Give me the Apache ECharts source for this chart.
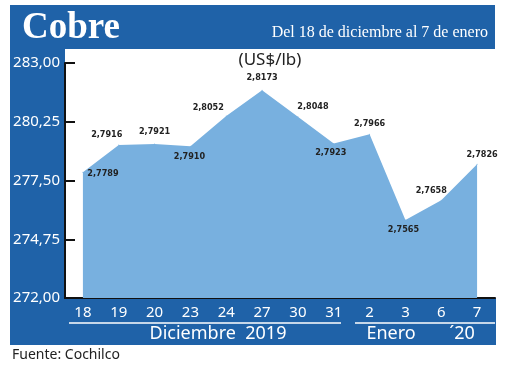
<!DOCTYPE html>
<html><head><meta charset="utf-8">
<script src="https://cdn.jsdelivr.net/npm/echarts@6/dist/echarts.min.js"></script>
<style>html,body{margin:0;padding:0;background:#fff}#c{width:520px;height:367px}</style>
</head><body><div id="c"></div>
<script>
// Data (cents of US$/lb; labels shown in US$/lb)
var categories = ['18','19','20','23','24','27','30','31','2','3','6','7'];
var values = [277.89, 279.16, 279.21, 279.10, 280.52, 281.73, 280.48, 279.23, 279.66, 275.65, 276.58, 278.26];
var yTicks = [272, 274.75, 277.5, 280.25, 283];

// label placement (style only)
var labelOffsets = [[20,1],[-12,-10],[0,-12],[-1,10],[-18,-8],[0,-12],[15,-10],[-3,9],[0,-11],[-2,10],[-10,-9],[5,-10]];

var HDR = '#1f62a8', AREA = '#78b0df';
var chart = echarts.init(document.getElementById('c'));
var fmt = function (v) { return v.toFixed(2).replace('.', ','); };
var seriesData = values.map(function (v, i) {
  return {
    value: v,
    label: {
      show: true, position: 'inside', offset: labelOffsets[i],
      formatter: (v / 100).toFixed(4).replace('.', ','),
      color: '#222', fontSize: 9, fontWeight: 'bold',
      fontFamily: "'Liberation Sans Narrow','DejaVu Sans Condensed',sans-serif"
    }
  };
});
function txt(x, y, s, font, fill, align) {
  return { type: 'text', z: 10, style: { x: x, y: y, text: s, fill: fill, font: font, align: align || 'left', verticalAlign: 'middle' } };
}
chart.setOption({
  animation: false,
  grid: { left: 65, right: 25, top: 63, bottom: 69 },
  graphic: [
    { type: 'rect', z: -1, shape: { x: 10, y: 5, width: 485, height: 44 }, style: { fill: HDR } },
    { type: 'rect', z: -1, shape: { x: 10, y: 49, width: 55, height: 250 }, style: { fill: HDR } },
    { type: 'rect', z: -1, shape: { x: 10, y: 298, width: 486, height: 47 }, style: { fill: HDR } },
    txt(22, 28, 'Cobre', "bold 37px 'Liberation Serif', serif", '#fff'),
    txt(488, 33, 'Del 18 de diciembre al 7 de enero', "16px 'Liberation Serif', serif", '#fff', 'right'),
    txt(270, 60, '(US$/lb)', "17px 'Noto Sans', sans-serif", '#222', 'center'),
    { type: 'line', shape: { x1: 69, y1: 323, x2: 341, y2: 323 }, style: { stroke: '#fff', lineWidth: 1.5 } },
    { type: 'line', shape: { x1: 355, y1: 323, x2: 495, y2: 323 }, style: { stroke: '#fff', lineWidth: 1.5 } },
    txt(218, 334, 'Diciembre  2019', "18px 'Noto Sans', sans-serif", '#fff', 'center'),
    txt(391, 334, 'Enero', "18px 'Noto Sans', sans-serif", '#fff', 'center'),
    txt(462, 334, '\u00B420', "18px 'Noto Sans', sans-serif", '#fff', 'center'),
    txt(12, 355, 'Fuente: Cochilco', "14px 'Noto Sans', sans-serif", '#222')
  ],
  xAxis: {
    type: 'category', data: categories, boundaryGap: true,
    axisLine: { lineStyle: { color: '#111', width: 2 } },
    axisTick: { show: false },
    axisLabel: { color: '#fff', fontSize: 15, fontFamily: "'Noto Sans', sans-serif", margin: 7 }
  },
  yAxis: {
    type: 'value', min: 272, max: 283,
    splitLine: { show: false },
    axisLine: { show: true, lineStyle: { color: '#111', width: 2 } },
    axisTick: { show: true, inside: true, length: 10, lineStyle: { color: '#111', width: 2 }, customValues: yTicks },
    axisLabel: { color: '#fff', fontSize: 15, fontFamily: "'Noto Sans', sans-serif", margin: 5, customValues: yTicks, formatter: fmt }
  },
  series: [{
    type: 'line', data: seriesData, symbol: 'circle', showSymbol: true, symbolSize: 1,
    lineStyle: { width: 0, color: AREA },
    areaStyle: { color: AREA, opacity: 1 },
    itemStyle: { color: AREA }
  }]
});
</script></body></html>
